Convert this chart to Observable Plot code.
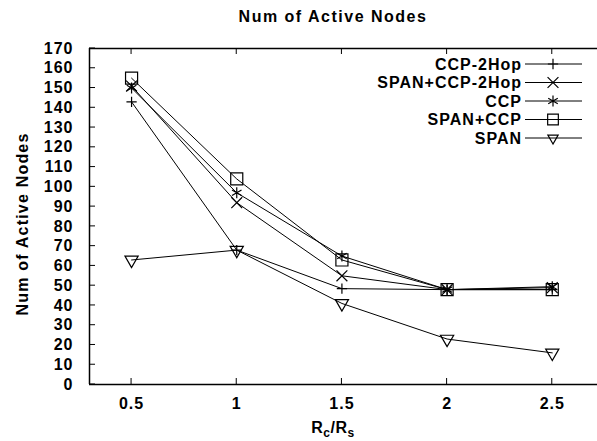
<!DOCTYPE html>
<html><head><meta charset="utf-8">
<script src="https://cdn.jsdelivr.net/npm/d3@7"></script>
<script src="https://cdn.jsdelivr.net/npm/@observablehq/plot@0.6"></script>
<style>
body{margin:0;background:#fff;font-family:"Liberation Sans",Arial,sans-serif;}
#title{height:30px;width:597px;position:relative;}
#title div{position:absolute;left:333px;transform:translateX(-50%);top:8px;font-weight:bold;font-size:16px;letter-spacing:1.5px;white-space:nowrap;}
</style></head><body>
<div id="title"><div>Num of Active Nodes</div></div>
<div id="chart"></div>
<script>
const xs = [0.5, 1, 1.5, 2, 2.5];
const seriesNames = ["CCP-2Hop", "SPAN+CCP-2Hop", "CCP", "SPAN+CCP", "SPAN"];
const ccp2hop     = [143, 68, 48.5, 48, 48];
const spanCcp2hop = [151, 92, 55, 48, 49];
const ccp         = [150, 97, 65, 48, 49.5];
const spanCcp     = [155, 104, 63, 48, 48];
const span        = [63, 68, 41, 23, 16];
const yTicks = [0,10,20,30,40,50,60,70,80,90,100,110,120,130,140,150,160,170];
const xTicks = [0.5, 1, 1.5, 2, 2.5];

const values = [ccp2hop, spanCcp2hop, ccp, spanCcp, span];
const symbols = ["plus", "times", "asterisk", "square", "triangle"];
const d3symbols = [d3.symbolPlus, d3.symbolTimes, d3.symbolAsterisk, d3.symbolSquare2, d3.symbolTriangle2];
const radii = [3.4, 5.0, 5.2, 6.8, 4.9];
const rotations = [0, 0, 0, 0, 180];

const rows = seriesNames.flatMap((s, i) => xs.map((x, j) => ({series: s, x, y: values[i][j]})));

const dotMarks = seriesNames.map((s, i) => Plot.dot(rows.filter(d => d.series === s), {
  x: "x", y: "y", symbol: symbols[i], r: radii[i], rotate: rotations[i],
  stroke: "black", strokeWidth: 1.2, fill: "none"
}));

const tickMark = (index, scales, vals, dims) => {
  const g = d3.create("svg:g").attr("stroke", "black").attr("stroke-width", 1);
  const L = dims.marginLeft, T = dims.marginTop, B = dims.height - dims.marginBottom;
  for (const t of yTicks) g.append("line").attr("x1", L).attr("x2", L + 6).attr("y1", scales.y(t)).attr("y2", scales.y(t));
  for (const t of xTicks) {
    g.append("line").attr("x1", scales.x(t)).attr("x2", scales.x(t)).attr("y1", B).attr("y2", B - 6);
    g.append("line").attr("x1", scales.x(t)).attr("x2", scales.x(t)).attr("y1", T).attr("y2", T + 6);
  }
  return g.node();
};

const legendMark = (index, scales, vals, dims) => {
  const g = d3.create("svg:g");
  const R = dims.width;
  seriesNames.forEach((s, i) => {
    const yy = dims.marginTop + 16 + i * 18.5;
    g.append("text").attr("x", R - 75).attr("y", yy).attr("dy", "0.36em")
      .attr("text-anchor", "end").attr("font-size", 16).attr("font-weight", "bold")
      .attr("letter-spacing", "1px").attr("fill", "black").text(s);
    g.append("line").attr("x1", R - 72).attr("x2", R - 15).attr("y1", yy).attr("y2", yy)
      .attr("stroke", "black").attr("stroke-width", 1);
    g.append("path").attr("d", d3.symbol(d3symbols[i], Math.PI * radii[i] * radii[i])())
      .attr("transform", `translate(${R - 44},${yy}) rotate(${rotations[i]})`)
      .attr("fill", "none").attr("stroke", "black").attr("stroke-width", 1.2);
  });
  return g.node();
};

const xLabelMark = (index, scales, vals, dims) => {
  const t = d3.create("svg:text").attr("x", 333).attr("y", 403)
    .attr("text-anchor", "middle").attr("font-size", 16).attr("font-weight", "bold")
    .attr("letter-spacing", "0.5px").attr("fill", "black");
  t.append("tspan").text("R");
  t.append("tspan").attr("font-size", 12).attr("dy", 4).text("c");
  t.append("tspan").attr("dy", -4).text("/R");
  t.append("tspan").attr("font-size", 12).attr("dy", 4).text("s");
  return t.node();
};

const yLabelMark = (index, scales, vals, dims) => {
  const cy = (dims.marginTop + dims.height - dims.marginBottom) / 2 + 8;
  return d3.create("svg:text")
    .attr("transform", `translate(22,${cy}) rotate(-90)`)
    .attr("text-anchor", "middle").attr("dy", "0.36em")
    .attr("font-size", 16).attr("font-weight", "bold").attr("letter-spacing", "1.2px")
    .attr("fill", "black").text("Num of Active Nodes").node();
};

const chart = Plot.plot({
  width: 597, height: 411,
  marginLeft: 89, marginRight: 0, marginTop: 18, marginBottom: 57,
  style: {fontFamily: "'Liberation Sans', Arial, sans-serif", fontSize: "16px", fontWeight: "bold", color: "black", background: "white", letterSpacing: "1px"},
  x: {domain: [0.3, 2.715], axis: null},
  y: {domain: [0, 170], axis: null},
  marks: [
    Plot.axisY({ticks: yTicks, tickSize: 0, tickPadding: 16, label: null, fontSize: 16}),
    Plot.axisX({ticks: xTicks, tickSize: 0, tickPadding: 13, label: null, tickFormat: d => String(d), fontSize: 16}),
    Plot.ruleY([0, 170], {stroke: "black", strokeWidth: 1.5}),
    Plot.ruleX([0.3], {stroke: "black", strokeWidth: 1.5}),
    tickMark,
    Plot.line(rows, {x: "x", y: "y", z: "series", stroke: "black", strokeWidth: 1}),
    ...dotMarks,
    yLabelMark,
    legendMark,
    xLabelMark
  ]
});
document.getElementById("chart").appendChild(chart);
</script>
</body></html>
